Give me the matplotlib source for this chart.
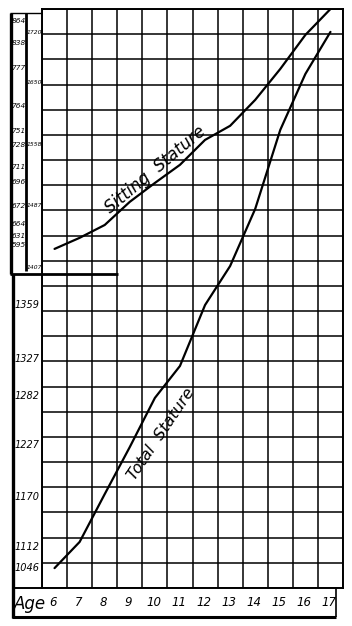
import numpy as np
import matplotlib
matplotlib.use("Agg")
import matplotlib.pyplot as plt
from matplotlib.lines import Line2D

# ages sit at the centre of each grid column
ages = [6, 7, 8, 9, 10, 11, 12, 13, 14, 15, 16, 17]

# curve heights in grid squares above the bottom of the grid
sitting = [13.47, 13.91, 14.42, 15.34, 16.09, 16.81, 17.80, 18.36, 19.39, 20.62, 21.97, 23.0]
total = [0.79, 1.83, 3.73, 5.60, 7.55, 8.82, 11.24, 12.79, 15.06, 18.20, 20.42, 22.09]

# value labels written in the left columns, with their heights (grid squares)
sit_labels = ["864", "838", "777", "764", "751", "728", "711", "696", "672", "664", "631", "595"]
sit_label_pos = [22.53, 21.65, 20.66, 19.15, 18.16, 17.60, 16.73, 16.13, 15.18, 14.46, 13.98, 13.63]
upper_labels = ["1720", "1650", "1558", "1487", "1407"]
upper_label_pos = [22.05, 20.10, 17.60, 15.18, 12.75]
lower_labels = ["1359", "1327", "1282", "1227", "1170", "1112", "1046"]
lower_label_pos = [11.24, 9.10, 7.63, 5.68, 3.62, 1.63, 0.79]

W, H = 352, 626
fam = ["Liberation Sans Narrow", "DejaVu Sans"]

fig = plt.figure(figsize=(W / 100, H / 100), dpi=100)
fig.patch.set_facecolor("white")

# main grid: x 42..343 px, y 9..588 px
ax = fig.add_axes([42 / W, 1 - 588 / H, (343 - 42) / W, (588 - 9) / H])
ax.set_xlim(5.5, 17.5)
ax.set_ylim(0, 23)
for v in np.arange(5.5, 18.0, 1):
    ax.axvline(v, color="k", lw=1.1)
for h in range(24):
    ax.axhline(h, color="k", lw=1.1)
for s in ax.spines.values():
    s.set_linewidth(1.4)
ax.set_xticks([])
ax.set_yticks([])

ax.plot(ages, sitting, color="k", lw=1.6, solid_capstyle="round")
ax.plot(ages, total, color="k", lw=1.6, solid_capstyle="round")

ax.text(10.0, 16.6, "Sitting  Stature", rotation=40, ha="center", va="center",
        fontsize=12, style="italic", family="DejaVu Sans", rotation_mode="anchor")
ax.text(10.25, 6.1, "Total  Stature", rotation=56, ha="center", va="center",
        fontsize=11.5, style="italic", family="DejaVu Sans", rotation_mode="anchor")

# left label columns
ytr = ax.get_yaxis_transform()
for t, p in zip(sit_labels, sit_label_pos):
    ax.text((18.5 - 42) / 301, p, t, transform=ytr, ha="center", va="center",
            fontsize=5.3, style="italic", family=fam, clip_on=False)
for t, p in zip(upper_labels, upper_label_pos):
    ax.text((34.2 - 42) / 301, p, t, transform=ytr, ha="center", va="center",
            fontsize=4.3, style="italic", family=fam, clip_on=False)
for t, p in zip(lower_labels, lower_label_pos):
    ax.text((27 - 42) / 301, p, t, transform=ytr, ha="center", va="center",
            fontsize=7, style="italic", family=fam, clip_on=False)

# age row
xtr = ax.get_xaxis_transform()
for a in ages:
    ax.text(a - 0.05, (588 - 603) / 579, str(a), transform=xtr, ha="center", va="center",
            fontsize=8.5, style="italic", family=fam, clip_on=False)
ax.text((14 - 42) / 301 * 12 + 5.5, (588 - 604) / 579, "Age", transform=xtr, ha="left",
        va="center", fontsize=12, style="italic", family="DejaVu Sans", clip_on=False)


def frame_line(x0, y0, x1, y1, lw):
    fig.add_artist(Line2D([x0 / W, x1 / W], [1 - y0 / H, 1 - y1 / H], color="k", lw=lw,
                          solid_capstyle="butt"))


frame_line(10.5, 13, 10.5, 274, 2.4)   # upper left border
frame_line(10, 13, 42, 13, 1.0)        # upper box top
frame_line(26, 13, 26, 271, 2.0)       # column divider
frame_line(10, 274, 118, 274, 2.0)     # separator
frame_line(12.5, 274, 12.5, 618, 2.4)  # lower left border
frame_line(12, 588, 42, 588, 1.4)      # bottom of label column
frame_line(12, 617, 336, 617, 2.2)     # age row bottom
frame_line(335.5, 588, 335.5, 617, 1.2)  # age row right

fig.savefig("out.png", dpi=100, facecolor="white")
